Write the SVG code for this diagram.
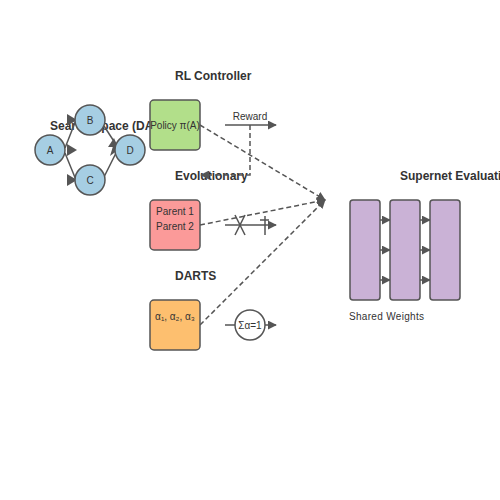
<svg xmlns="http://www.w3.org/2000/svg" width="500" height="500" viewBox="0 0 500 500">
<defs>
<marker id="ah" viewBox="0 0 10 10" refX="9" refY="5" markerWidth="6" markerHeight="6" orient="auto">
<path d="M0,0 L10,5 L0,10 z" fill="#555"/>
</marker>
<style>
.t{font-family:"Liberation Sans",Arial,sans-serif;fill:#333}
.h{font-size:12px;font-weight:bold}
.s{font-size:10px}
.ln{stroke:#555;stroke-width:1.5;fill:none}
.dash{stroke:#555;stroke-width:1.5;fill:none;stroke-dasharray:5,3}
.node{stroke:#555;stroke-width:1.5}
.c{fill:#a6cee3}
</style>
</defs>
<rect width="500" height="500" fill="#fff"/>
<g id="titles">
<text class="t h" x="50" y="130">Search Space (DAG)</text>
<text class="t h" x="175" y="80">RL Controller</text>
<text class="t h" x="175" y="180">Evolutionary</text>
<text class="t h" x="175" y="280">DARTS</text>
<text class="t h" x="400" y="180">Supernet Evaluation</text>
</g>
<g id="connectors">
<line class="ln" x1="65" y1="148" x2="76" y2="120"/>
<line class="ln" x1="65" y1="153" x2="76" y2="180"/>
<line class="ln" x1="104" y1="126" x2="117" y2="146"/>
<line class="ln" x1="104" y1="177" x2="117" y2="151"/>
<path d="M67,114 L77,120 L67,126 z" fill="#555"/>
<path d="M67,144 L77,150 L67,156 z" fill="#555"/>
<path d="M67,174 L77,180 L67,186 z" fill="#555"/>
<path d="M108,147 L118,147 L114,138 z" fill="#555"/>
<path d="M110,156 L118,150 L114,143 z" fill="#555"/>
<line class="ln" x1="225" y1="125" x2="276" y2="125" marker-end="url(#ah)"/>
<path class="dash" d="M250,125 V175 H201" marker-end="url(#ah)"/>
<line class="dash" x1="200" y1="125" x2="325" y2="200" marker-end="url(#ah)"/>
<line class="dash" x1="200" y1="225" x2="325" y2="200" marker-end="url(#ah)"/>
<line class="dash" x1="200" y1="325" x2="325" y2="200" marker-end="url(#ah)"/>
<line class="ln" x1="225" y1="225" x2="276" y2="225" marker-end="url(#ah)"/>
<line class="ln" x1="235" y1="215" x2="245" y2="235"/>
<line class="ln" x1="245" y1="215" x2="235" y2="235"/>
<line class="ln" x1="265" y1="216" x2="265" y2="235"/>
<line class="ln" x1="260" y1="220" x2="269" y2="220"/>
<line class="ln" x1="225" y1="325" x2="276" y2="325" marker-end="url(#ah)"/>
<line class="ln" x1="380" y1="220" x2="390" y2="220" marker-end="url(#ah)"/>
<line class="ln" x1="380" y1="250" x2="390" y2="250" marker-end="url(#ah)"/>
<line class="ln" x1="380" y1="280" x2="390" y2="280" marker-end="url(#ah)"/>
<line class="ln" x1="420" y1="220" x2="430" y2="220" marker-end="url(#ah)"/>
<line class="ln" x1="420" y1="250" x2="430" y2="250" marker-end="url(#ah)"/>
<line class="ln" x1="420" y1="280" x2="430" y2="280" marker-end="url(#ah)"/>
</g>
<g id="nodeA"><circle class="node c" cx="50" cy="150" r="15"/><text class="t s" x="50" y="154" text-anchor="middle">A</text></g>
<g id="nodeB"><circle class="node c" cx="90" cy="120" r="15"/><text class="t s" x="90" y="124" text-anchor="middle">B</text></g>
<g id="nodeC"><circle class="node c" cx="90" cy="180" r="15"/><text class="t s" x="90" y="184" text-anchor="middle">C</text></g>
<g id="nodeD"><circle class="node c" cx="130" cy="150" r="15"/><text class="t s" x="130" y="154" text-anchor="middle">D</text></g>
<g id="policy"><rect class="node" x="150" y="100" width="50" height="50" rx="4" fill="#b2df8a"/><text class="t s" x="175" y="129" text-anchor="middle">Policy π(A)</text></g>
<g id="reward"><text class="t s" x="250" y="120" text-anchor="middle">Reward</text></g>
<g id="parents"><rect class="node" x="150" y="200" width="50" height="50" rx="4" fill="#fb9a99"/><text class="t s" x="175" y="215" text-anchor="middle">Parent 1</text><text class="t s" x="175" y="230" text-anchor="middle">Parent 2</text></g>
<g id="alphas"><rect class="node" x="150" y="300" width="50" height="50" rx="4" fill="#fdbf6f"/><text class="t s" x="175" y="320" text-anchor="middle">α₁, α₂, α₃</text></g>
<g id="softmax"><circle class="node" cx="250" cy="325" r="15" fill="#fff"/><text class="t s" x="250" y="329" text-anchor="middle">Σα=1</text></g>
<g id="supernet">
<rect class="node" x="350" y="200" width="30" height="100" rx="3" fill="#cab2d6"/>
<rect class="node" x="390" y="200" width="30" height="100" rx="3" fill="#cab2d6"/>
<rect class="node" x="430" y="200" width="30" height="100" rx="3" fill="#cab2d6"/>
<text class="t s" x="349" y="320" textLength="75">Shared Weights</text>
</g>
</svg>
